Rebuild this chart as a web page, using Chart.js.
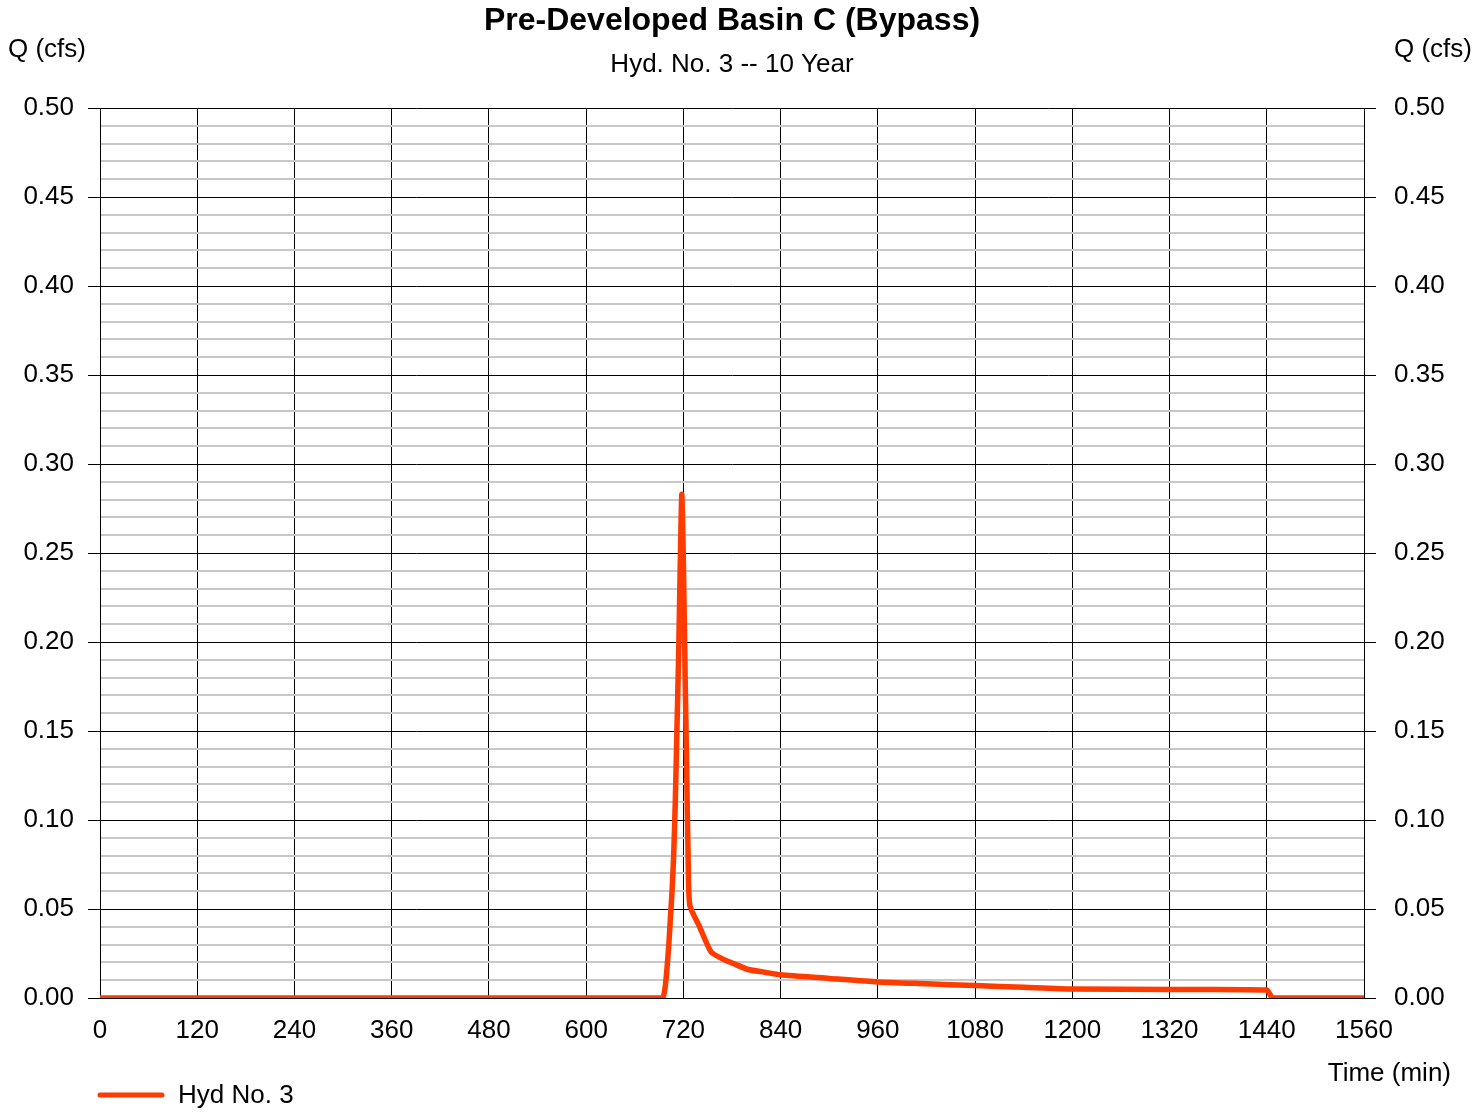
<!DOCTYPE html>
<html>
<head>
<meta charset="utf-8">
<script src="https://cdn.jsdelivr.net/npm/chart.js@4.4.1/dist/chart.umd.min.js"></script>
<style>
html,body{margin:0;padding:0;background:#fff;}
#wrap{width:1473px;height:1114px;position:relative;}
</style>
</head>
<body>
<div id="wrap"><canvas id="c" width="1473" height="1114"></canvas></div>
<script>
// ---- data ----
const chartTitle = "Pre-Developed Basin C (Bypass)";
const chartSubtitle = "Hyd. No. 3 -- 10 Year";
const yAxisTitle = "Q (cfs)";
const xAxisTitle = "Time (min)";
const seriesName = "Hyd No. 3";
const xTicks = [0, 120, 240, 360, 480, 600, 720, 840, 960, 1080, 1200, 1320, 1440, 1560];
const yTicks = [0.00, 0.05, 0.10, 0.15, 0.20, 0.25, 0.30, 0.35, 0.40, 0.45, 0.50];
const timeMin = [0, 600, 694, 696, 698, 700, 702, 704, 706, 708, 710, 712, 714, 716, 718,
  720, 722, 724, 726, 728, 740, 754, 768, 781, 800, 820, 840, 900, 960, 1020, 1080, 1140,
  1200, 1320, 1440, 1444, 1447, 1500, 1560];
const flowCfs = [0, 0, 0, 0.002, 0.008, 0.018, 0.030, 0.045, 0.060, 0.080, 0.110, 0.150, 0.190, 0.240, 0.283,
  0.245, 0.185, 0.130, 0.075, 0.052, 0.040, 0.026, 0.022, 0.0195, 0.016, 0.0145, 0.013, 0.011, 0.009, 0.008, 0.007, 0.006,
  0.005, 0.0048, 0.0045, 0.002, 0, 0, 0];

const FONT = "'Liberation Sans', Arial, Helvetica, sans-serif";
const points = timeMin.map((t, i) => ({x: t, y: flowCfs[i]}));
const isMajor = v => Math.round(v * 100) % 5 === 0;

const textPlugin = {
  id: 'texts',
  afterDraw(chart) {
    const ctx = chart.ctx;
    ctx.save();
    ctx.fillStyle = '#000';
    ctx.textBaseline = 'middle';
    ctx.textAlign = 'center';
    ctx.font = 'bold 32px ' + FONT;
    ctx.fillText(chartTitle, 732, 21);
    ctx.font = '26px ' + FONT;
    ctx.fillText(chartSubtitle, 732, 65);
    ctx.textAlign = 'left';
    ctx.fillText(yAxisTitle, 8, 50);
    ctx.textAlign = 'right';
    ctx.fillText(yAxisTitle, 1472, 50);
    ctx.fillText(xAxisTitle, 1451, 1074);
    // legend
    ctx.strokeStyle = '#ff3b00';
    ctx.lineWidth = 5;
    ctx.lineCap = 'round';
    ctx.beginPath();
    ctx.moveTo(100, 1095);
    ctx.lineTo(162, 1095);
    ctx.stroke();
    ctx.textAlign = 'left';
    ctx.fillText(seriesName, 178, 1096);
    ctx.restore();
  }
};

new Chart(document.getElementById('c'), {
  type: 'line',
  data: {
    datasets: [{
      label: seriesName,
      data: points,
      borderColor: '#ff3b00',
      borderWidth: 5.5,
      pointRadius: 0,
      tension: 0.2,
      fill: false,
      borderJoinStyle: 'round'
    }]
  },
  options: {
    responsive: false,
    animation: false,
    layout: {padding: {top: 108, left: 0, right: 0, bottom: 0}},
    plugins: {legend: {display: false}, title: {display: false}, tooltip: {enabled: false}},
    scales: {
      x: {
        type: 'linear', min: 0, max: 1560,
        afterBuildTicks: s => { s.ticks = xTicks.map(v => ({value: v})); },
        afterFit: s => { s.height = 116; },
        ticks: {font: {family: FONT, size: 26}, color: '#000', padding: 17, maxRotation: 0,
          callback: v => String(v)},
        grid: {color: '#000', lineWidth: 1, drawTicks: false},
        border: {color: '#000', width: 1}
      },
      y: {
        position: 'left', min: 0, max: 0.5,
        ticks: {stepSize: 0.01, autoSkip: false, font: {family: FONT, size: 26}, color: '#000', padding: 14,
          callback: v => isMajor(v) ? yTicks[Math.round(v * 20)].toFixed(2) : ''},
        afterFit: s => { s.width = 100; },
        grid: {
          color: c => isMajor(c.tick.value) ? '#000' : '#c8c8c8',
          lineWidth: c => isMajor(c.tick.value) ? 1 : 2,
          tickColor: c => isMajor(c.tick.value) ? '#000' : 'rgba(0,0,0,0)',
          tickLength: 12
        },
        border: {color: '#000', width: 1}
      },
      y2: {
        position: 'right', min: 0, max: 0.5,
        ticks: {stepSize: 0.01, autoSkip: false, font: {family: FONT, size: 26}, color: '#000', padding: 18,
          callback: v => isMajor(v) ? yTicks[Math.round(v * 20)].toFixed(2) : ''},
        afterFit: s => { s.width = 109; },
        grid: {
          drawOnChartArea: false,
          color: c => isMajor(c.tick.value) ? '#000' : 'rgba(0,0,0,0)',
          tickLength: 12
        },
        border: {color: '#000', width: 1}
      }
    }
  },
  plugins: [textPlugin]
});
</script>
</body>
</html>
